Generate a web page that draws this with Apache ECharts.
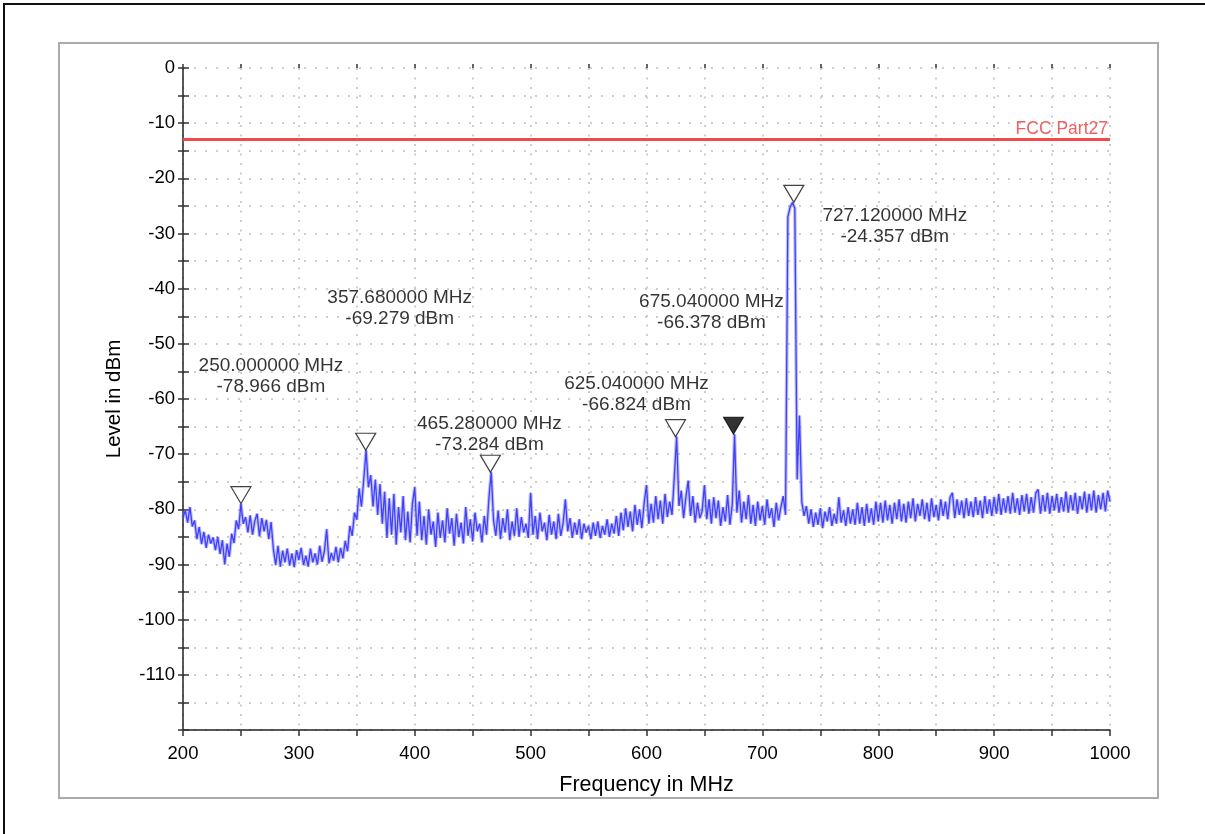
<!DOCTYPE html>
<html>
<head>
<meta charset="utf-8">
<title>Spectrum 200-1000 MHz</title>
<script src="https://cdn.jsdelivr.net/npm/echarts@6.0.0/dist/echarts.min.js"></script>
<style>
  html, body { margin: 0; padding: 0; background: #fff; }
  #chart { width: 1205px; height: 834px; }
</style>
</head>
<body>
<div id="chart"></div>
<script>
// sweep: 200 MHz .. 1000 MHz, one reading every 2 MHz
const freqStart = 200;
const freqStep = 2;
const levels = [
  -81.5, -80.2, -82.4, -79.6, -83.1, -82.0, -85.4, -83.2, -86.3, -84.1,   // 200
  -87.0, -84.6, -86.2, -85.1, -87.4, -85.0, -88.1, -85.6, -90.0, -86.2,   // 220
  -88.6, -84.4, -86.1, -82.0, -83.6, -79.0, -82.6, -81.4, -84.2, -81.1,   // 240
  -84.6, -82.1, -80.8, -84.9, -81.6, -84.0, -81.9, -85.4, -82.3, -87.2,   // 260
  -90.1, -86.6, -90.4, -87.5, -89.6, -87.1, -90.2, -88.0, -90.5, -87.4,   // 280
  -89.2, -87.0, -90.1, -88.4, -90.4, -87.1, -89.6, -88.0, -90.0, -86.6,   // 300
  -89.5, -87.6, -83.6, -89.8, -87.9, -89.3, -86.8, -89.6, -87.0, -88.9,   // 320
  -85.7, -87.6, -83.0, -84.8, -80.6, -81.9, -76.2, -79.5, -74.6, -69.3,   // 340
  -76.0, -73.8, -79.5, -74.6, -81.0, -75.4, -82.6, -76.8, -85.2, -78.0,   // 360
  -84.6, -77.2, -86.4, -79.6, -84.2, -77.6, -85.6, -80.4, -86.0, -79.0,   // 380
  -76.0, -84.8, -78.6, -85.6, -81.2, -86.4, -80.0, -84.6, -82.2, -86.8,   // 400
  -80.6, -85.2, -82.0, -86.0, -79.8, -84.4, -81.6, -86.6, -80.8, -85.0,   // 420
  -82.4, -86.2, -79.6, -84.8, -81.8, -85.8, -80.6, -84.0, -82.6, -86.0,   // 440
  -81.2, -84.6, -78.0, -73.3, -82.0, -84.8, -80.2, -85.4, -81.6, -84.2,   // 460
  -80.0, -85.6, -82.2, -84.8, -79.8, -85.0, -81.4, -84.2, -82.6, -85.2,   // 480
  -77.0, -84.6, -81.2, -85.4, -80.6, -84.0, -82.4, -85.6, -81.0, -84.6,   // 500
  -82.2, -85.4, -80.8, -84.8, -82.6, -78.2, -84.0, -81.6, -85.2, -82.4,   // 520
  -84.6, -81.8, -85.4, -82.6, -84.2, -83.0, -85.4, -82.4, -84.8, -82.2,   // 540
  -85.2, -83.0, -84.6, -81.8, -85.0, -82.6, -84.4, -81.2, -84.8, -80.6,   // 560
  -83.8, -79.8, -83.2, -80.4, -84.0, -79.2, -82.8, -80.0, -83.4, -78.8,   // 580
  -75.6, -82.6, -79.0, -82.4, -77.6, -81.8, -78.4, -82.6, -77.2, -81.4,   // 600
  -78.6, -81.0, -74.2, -66.8, -79.4, -76.6, -81.6, -77.8, -74.8, -81.2,   // 620
  -77.6, -82.4, -78.8, -81.6, -80.4, -75.6, -81.8, -78.2, -82.6, -77.8,   // 640
  -81.6, -78.4, -83.0, -79.6, -82.2, -77.4, -82.8, -79.2, -66.4, -80.6,   // 660
  -76.6, -82.4, -78.6, -81.8, -77.4, -82.6, -79.2, -83.0, -78.6, -82.0,   // 680
  -79.4, -82.8, -78.2, -81.6, -79.8, -83.2, -78.8, -82.0, -79.6, -77.6,   // 700
  -81.0, -27.0, -25.2, -24.4, -25.4, -74.6, -63.0, -78.6, -81.2, -79.4,   // 720
  -82.6, -80.0, -83.2, -80.6, -82.8, -79.8, -83.4, -80.4, -82.2, -79.6,   // 740
  -83.0, -80.8, -82.6, -77.8, -82.4, -80.2, -83.0, -79.6, -82.6, -80.0,   // 760
  -82.8, -78.8, -82.6, -79.6, -83.0, -79.0, -82.4, -79.8, -82.8, -78.6,   // 780
  -82.2, -78.8, -82.4, -78.4, -82.0, -79.2, -82.6, -78.8, -81.8, -78.2,   // 800
  -82.2, -79.0, -82.4, -78.6, -81.6, -78.0, -82.2, -79.0, -81.2, -78.2,   // 820
  -81.8, -78.8, -82.2, -78.0, -81.4, -79.2, -82.0, -78.2, -81.2, -78.6,   // 840
  -81.8, -77.8, -77.0, -81.6, -78.2, -81.0, -78.4, -81.6, -78.0, -81.2,   // 860
  -78.6, -81.4, -77.8, -81.0, -78.4, -81.6, -77.6, -80.8, -78.2, -81.2,   // 880
  -77.8, -80.8, -77.2, -81.0, -78.0, -80.6, -77.6, -80.8, -77.0, -80.6,   // 900
  -78.0, -81.0, -77.4, -80.4, -77.2, -80.8, -77.8, -80.6, -77.0, -76.4,   // 920
  -80.8, -77.4, -80.4, -77.0, -80.8, -77.6, -80.2, -77.2, -80.6, -77.8,   // 940
  -80.4, -76.8, -80.6, -77.4, -80.2, -77.0, -80.8, -77.6, -80.0, -76.8,   // 960
  -80.6, -77.2, -80.2, -76.6, -80.6, -77.4, -80.0, -77.0, -80.4, -76.6,   // 980
  -78.6                                                                   // 1000
];

// peak markers (open triangles) and the active marker (filled)
const markerFreqs = [250.00, 357.68, 465.28, 625.04, 727.12];
const markerLevels = [-78.966, -69.279, -73.284, -66.824, -24.357];
const activeFreq = 675.04;
const activeLevel = -66.378;

// limit line
const limitLevel = -13;
const limitName = 'FCC Part27';

// where each marker readout sits, in px from its marker tip
const readoutOffsets = [[30, -127], [34, -142], [-1, -38], [-39, -42], [101, 24]];
const activeReadoutOffset = [-22, -122];

const trace = levels.map((v, i) => [freqStart + i * freqStep, v]);
const fontFamily = '"Liberation Sans", Arial, sans-serif';
const triPath = 'path://M0 0L20 0L10 17Z';

function readout(f, l) {
  return f.toFixed(6) + ' MHz\n' + l.toFixed(3) + ' dBm';
}

const readoutData = markerFreqs.map((f, i) => ({
  value: [f, markerLevels[i]],
  label: { offset: readoutOffsets[i] }
}));
readoutData.push({ value: [activeFreq, activeLevel], label: { offset: activeReadoutOffset } });

const chart = echarts.init(document.getElementById('chart'));

const option = {
  animation: false,
  backgroundColor: '#fff',
  textStyle: { fontFamily: fontFamily },
  graphic: [
    { type: 'rect', silent: true, z: -10,
      shape: { x: 4, y: 4, width: 1240, height: 880 },
      style: { fill: 'none', stroke: '#111', lineWidth: 2 } },
    { type: 'rect', silent: true, z: -10,
      shape: { x: 59, y: 43, width: 1099, height: 755 },
      style: { fill: 'none', stroke: '#ababab', lineWidth: 2 } }
  ],
  grid: { left: 183, right: 95, top: 68, bottom: 104 },
  xAxis: [{
    type: 'value',
    min: 200,
    max: 1000,
    interval: 50,
    name: 'Frequency in MHz',
    nameLocation: 'middle',
    nameGap: 44,
    nameTextStyle: { fontSize: 21.5, color: '#000' },
    axisLine: { show: true, onZero: false, lineStyle: { color: '#222', width: 1.5 } },
    axisTick: { show: true, length: 6, lineStyle: { color: '#333', width: 1.5 } },
    axisLabel: {
      fontSize: 18.5, color: '#000', margin: 14,
      formatter: v => (v % 100 === 0 ? String(v) : '')
    },
    splitLine: { show: true, lineStyle: { color: '#bdbdbd', width: 1.5, type: [2, 7.5] } }
  }, {
    type: 'value', min: 200, max: 1000, interval: 50, position: 'bottom',
    axisLine: { show: false },
    axisTick: { show: true, inside: true, length: 4, lineStyle: { color: '#333', width: 1.5 } },
    axisLabel: { show: false },
    splitLine: { show: false }
  }],
  yAxis: [{
    type: 'value',
    min: -120,
    max: 0,
    interval: 5,
    name: 'Level in dBm',
    nameLocation: 'middle',
    nameGap: 58,
    nameTextStyle: { fontSize: 20.5, color: '#000' },
    axisLine: { show: true, onZero: false, lineStyle: { color: '#222', width: 1.5 } },
    axisTick: { show: true, length: 5, lineStyle: { color: '#333', width: 1.5 } },
    axisLabel: {
      fontSize: 18.5, color: '#000', margin: 8,
      formatter: v => (v % 10 === 0 && v !== -120 ? String(v) : '')
    },
    splitLine: { show: true, lineStyle: { color: '#bdbdbd', width: 1.5, type: [2, 9] } }
  }, {
    type: 'value', min: -120, max: 0, interval: 5, position: 'left',
    axisLine: { show: false },
    axisTick: { show: true, inside: true, length: 6, lineStyle: { color: '#333', width: 1.5 } },
    axisLabel: { show: false },
    splitLine: { show: false }
  }],
  series: [
    {
      // soft band under the trace, like the analyser's min/max smear
      name: 'trace band',
      type: 'line',
      data: trace,
      showSymbol: false,
      symbol: 'none',
      sampling: null,
      silent: true,
      lineStyle: { color: 'rgba(110,110,255,0.45)', width: 3.5 },
      z: 2
    },
    {
      name: 'trace',
      type: 'line',
      data: trace,
      showSymbol: false,
      symbol: 'none',
      sampling: null,
      lineStyle: { color: '#4040f6', width: 1.3 },
      z: 3,
      markLine: {
        silent: true,
        symbol: 'none',
        lineStyle: { color: '#f04a4a', width: 3, type: 'solid' },
        label: {
          show: true,
          position: 'insideEndTop',
          formatter: limitName,
          color: '#f25f5f',
          fontSize: 17.5,
          distance: 2
        },
        data: [{ yAxis: limitLevel }]
      }
    },
    {
      name: 'markers',
      type: 'scatter',
      data: markerFreqs.map((f, i) => [f, markerLevels[i]]),
      symbol: triPath,
      symbolSize: [20, 17],
      symbolOffset: [0, '-50%'],
      itemStyle: { color: '#fff', borderColor: '#111', borderWidth: 1.2 },
      z: 5
    },
    {
      name: 'active',
      type: 'scatter',
      data: [[activeFreq, activeLevel]],
      symbol: triPath,
      symbolSize: [20, 17],
      symbolOffset: [0, '-50%'],
      itemStyle: { color: '#000', borderColor: '#000', borderWidth: 1 },
      z: 5
    },
    {
      name: 'readouts',
      type: 'scatter',
      data: readoutData,
      symbolSize: 0,
      silent: true,
      label: {
        show: true,
        position: 'inside',
        align: 'center',
        verticalAlign: 'middle',
        fontSize: 19,
        lineHeight: 21,
        color: '#000',
        textBorderWidth: 0,
        formatter: p => readout(p.value[0], p.value[1])
      },
      z: 6
    }
  ]
};

chart.setOption(option);
</script>
</body>
</html>
